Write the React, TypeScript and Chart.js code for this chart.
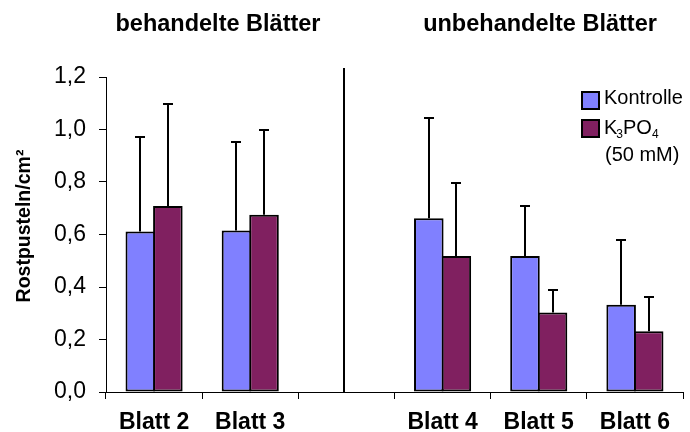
import React, { useEffect, useRef } from 'react';
import { Chart, registerables } from 'chart.js';

Chart.register(...registerables);

const categories = ['Blatt 2', 'Blatt 3', '', 'Blatt 4', 'Blatt 5', 'Blatt 6'];
const kontrolle = [0.611, 0.615, null, 0.662, 0.518, 0.332];
const kontrolleErr = [0.362, 0.338, null, 0.38, 0.19, 0.248];
const k3po4 = [0.709, 0.675, null, 0.518, 0.303, 0.231];
const k3po4Err = [0.39, 0.325, null, 0.28, 0.085, 0.13];
const yTicks = [0, 0.2, 0.4, 0.6, 0.8, 1.0, 1.2];
const groupTitles = ['behandelte Blätter', 'unbehandelte Blätter'];
const seriesNames = ['Kontrolle', 'K3PO4 (50 mM)'];
const yTitle = 'Rostpusteln/cm²';

const FONT = "'Liberation Sans', Arial, sans-serif";
const COL_K = '#8080ff';
const COL_P = '#802060';

const overlayPlugin = {
  id: 'overlay',
  afterDatasetsDraw(chart: any) {
    const ctx = chart.ctx as CanvasRenderingContext2D;
    const xs = chart.scales.x;
    const ys = chart.scales.y;
    const errs = [kontrolleErr, k3po4Err];
    ctx.save();
    ctx.strokeStyle = '#000';
    ctx.lineWidth = 2;
    chart.data.datasets.forEach((ds: any, i: number) => {
      const meta = chart.getDatasetMeta(i);
      meta.data.forEach((el: any, j: number) => {
        const v = ds.data[j];
        const e = errs[i][j];
        if (v == null || e == null) return;
        const px = Math.round(el.x);
        const y0 = ys.getPixelForValue(v);
        const y1 = Math.round(ys.getPixelForValue(v + e));
        ctx.beginPath();
        ctx.moveTo(px, y0);
        ctx.lineTo(px, y1);
        ctx.moveTo(px - 5, y1);
        ctx.lineTo(px + 5, y1);
        ctx.stroke();
      });
    });
    // separator line between groups
    const sx = Math.round(xs.getPixelForValue(2)) - 2;
    ctx.beginPath();
    ctx.moveTo(sx, ys.getPixelForValue(1.2) - 9);
    ctx.lineTo(sx, chart.chartArea.bottom + 1);
    ctx.stroke();

    ctx.fillStyle = '#000';
    // group titles
    ctx.font = `bold 23.5px ${FONT}`;
    ctx.textAlign = 'center';
    ctx.textBaseline = 'alphabetic';
    ctx.fillText(groupTitles[0], 218, 31);
    ctx.fillText(groupTitles[1], 540, 31);

    // y title
    ctx.save();
    ctx.translate(30, 226);
    ctx.rotate(-Math.PI / 2);
    ctx.font = `bold 19.5px ${FONT}`;
    ctx.textAlign = 'center';
    ctx.fillText(yTitle, 0, 0);
    ctx.restore();

    // legend
    ctx.lineWidth = 2;
    ctx.fillStyle = COL_K;
    ctx.fillRect(582, 92, 17, 17);
    ctx.strokeRect(582, 92, 17, 17);
    ctx.fillStyle = COL_P;
    ctx.fillRect(582, 120, 17, 17);
    ctx.strokeRect(582, 120, 17, 17);

    ctx.fillStyle = '#000';
    ctx.textAlign = 'left';
    ctx.font = `20px ${FONT}`;
    ctx.fillText(seriesNames[0], 604, 103.5);
    // K3PO4 with subscripts
    let tx = 604;
    const big = `20px ${FONT}`;
    const small = `12px ${FONT}`;
    ctx.font = big;
    ctx.fillText('K', tx, 134);
    tx += ctx.measureText('K').width - 1;
    ctx.font = small;
    ctx.fillText('3', tx, 138);
    tx += ctx.measureText('3').width;
    ctx.font = big;
    ctx.fillText('PO', tx, 134);
    tx += ctx.measureText('PO').width;
    ctx.font = small;
    ctx.fillText('4', tx, 138);
    ctx.font = big;
    ctx.fillText('(50 mM)', 605, 161);
    ctx.restore();
  },
};

export default function App() {
  const ref = useRef<HTMLCanvasElement | null>(null);
  useEffect(() => {
    document.body.style.margin = '0';
    const canvas = ref.current;
    if (!canvas) return;
    const barOpts = {
      borderColor: '#000',
      borderWidth: 2,
      borderSkipped: false,
      categoryPercentage: 0.573,
      barPercentage: 1.073,
    };
    const chart = new Chart(canvas, {
      type: 'bar',
      data: {
        labels: categories,
        datasets: [
          { label: seriesNames[0], data: kontrolle, backgroundColor: COL_K, ...barOpts },
          { label: seriesNames[1], data: k3po4, backgroundColor: COL_P, ...barOpts },
        ],
      },
      options: {
        animation: false,
        responsive: false,
        devicePixelRatio: 1,
        layout: { padding: { top: 77, right: 7, left: 0, bottom: 0 } },
        plugins: { legend: { display: false }, tooltip: { enabled: false } },
        scales: {
          x: {
            type: 'category',
            offset: true,
            grid: {
              display: true,
              offset: true,
              drawOnChartArea: false,
              drawTicks: true,
              tickLength: 7,
              color: '#000',
            },
            border: { display: true, color: '#000', width: 1 },
            ticks: {
              color: '#000',
              font: { family: FONT, size: 23, weight: 'bold' },
              padding: 10,
              maxRotation: 0,
              autoSkip: false,
            },
            afterFit: (s: any) => {
              s.height = 40;
            },
          },
          y: {
            min: 0,
            max: 1.2,
            grid: {
              display: true,
              drawOnChartArea: false,
              drawTicks: true,
              tickLength: 7,
              color: '#000',
            },
            border: { display: true, color: '#000', width: 1 },
            afterBuildTicks: (s: any) => {
              s.ticks = yTicks.map((v) => ({ value: v }));
            },
            ticks: {
              color: '#000',
              font: { family: FONT, size: 23 },
              padding: 13,
              callback: (v: any) => Number(v).toFixed(1).replace('.', ','),
            },
            afterFit: (s: any) => {
              s.width = 106;
            },
          },
        },
      },
      plugins: [overlayPlugin],
    } as any);
    return () => chart.destroy();
  }, []);
  return (
    <div style={{ width: 690, height: 432 }}>
      <canvas ref={ref} width={690} height={432} style={{ display: 'block' }} />
    </div>
  );
}
